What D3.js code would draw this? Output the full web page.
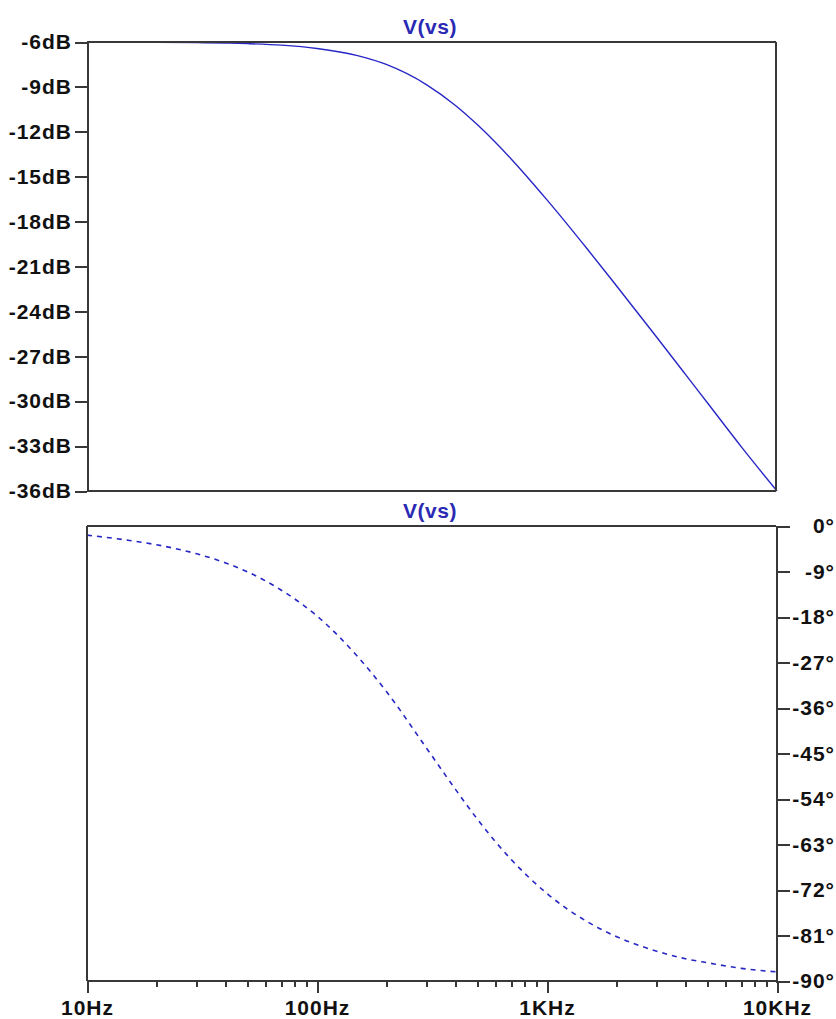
<!DOCTYPE html>
<html>
<head>
<meta charset="utf-8">
<script src="https://cdn.jsdelivr.net/npm/d3@7"></script>
<style>
  html, body { margin: 0; padding: 0; background: #fff; }
  svg { display: block; }
  text { font-family: "Liberation Sans", Arial, sans-serif; font-weight: bold; }
</style>
</head>
<body>
<script>
// ---- data ----
const freqs = [10, 15, 20, 30, 40, 50, 70, 100, 150, 200, 300, 400, 500, 700,
               1000, 1500, 2000, 3000, 4000, 5000, 7000, 10000];
const magnitudeDb = [-6.00, -6.01, -6.02, -6.04, -6.07, -6.11, -6.21, -6.43, -6.91, -7.50,
                     -8.86, -10.24, -11.55, -13.83, -16.55, -19.85, -22.27, -25.73,
                     -28.21, -30.14, -33.05, -36.00];
const phaseDeg = [-1.8, -2.8, -3.7, -5.5, -7.3, -9.1, -12.7, -17.8, -25.8, -32.7,
                  -44.0, -52.1, -58.1, -66.0, -72.7, -78.3, -81.2, -84.1,
                  -85.6, -86.4, -87.5, -88.2];
const magTicks = [-6, -9, -12, -15, -18, -21, -24, -27, -30, -33, -36];
const magTickLabels = ["-6dB", "-9dB", "-12dB", "-15dB", "-18dB", "-21dB", "-24dB", "-27dB", "-30dB", "-33dB", "-36dB"];
const phaseTicks = [0, -9, -18, -27, -36, -45, -54, -63, -72, -81, -90];
const phaseTickLabels = ["0°", "-9°", "-18°", "-27°", "-36°", "-45°", "-54°", "-63°", "-72°", "-81°", "-90°"];
const freqMajor = [10, 100, 1000, 10000];
const freqLabels = ["10Hz", "100Hz", "1KHz", "10KHz"];
const freqMinor = [20, 30, 40, 50, 60, 70, 80, 90, 200, 300, 400, 500, 600, 700, 800, 900,
                   2000, 3000, 4000, 5000, 6000, 7000, 8000, 9000];
const traceName = "V(vs)";

// ---- layout ----
const W = 836, H = 1019;
const L = 87, R = 776;
const top1 = 42, bot1 = 491;
const top2 = 526, bot2 = 981;
const frameColor = "#383838";
const traceColor = "#2727c6";
const titleColor = "#2a2ab4";
const fontSize = 21;

const svg = d3.select("body").append("svg").attr("width", W).attr("height", H);
svg.append("rect").attr("width", W).attr("height", H).attr("fill", "#fff");

const x = d3.scaleLog().domain([10, 10000]).range([L, R + 1]);
const yMag = d3.scaleLinear().domain([-36, -6]).range([bot1, top1]);
const yPh = d3.scaleLinear().domain([-90, 0]).range([bot2, top2]);

// ---- traces ----
const magLine = d3.line().x((d, i) => x(freqs[i])).y(d => yMag(d)).curve(d3.curveMonotoneX);
const phLine = d3.line().x((d, i) => x(freqs[i])).y(d => yPh(d)).curve(d3.curveMonotoneX);

svg.append("path").datum(magnitudeDb).attr("d", magLine)
  .attr("fill", "none").attr("stroke", traceColor).attr("stroke-width", 1.4);
svg.append("path").datum(phaseDeg).attr("d", phLine)
  .attr("fill", "none").attr("stroke", traceColor).attr("stroke-width", 1.6)
  .attr("stroke-dasharray", "5,5");

// ---- frames ----
function seg(x1, y1, x2, y2) {
  svg.append("line").attr("x1", x1).attr("y1", y1).attr("x2", x2).attr("y2", y2)
    .attr("stroke", frameColor).attr("stroke-width", 2).attr("shape-rendering", "crispEdges");
}
// top panel box
seg(L, top1, R, top1);
seg(R, top1, R, bot1);
seg(L, bot1, R, bot1);
// bottom panel box
seg(L, top2, R, top2);
seg(L, top2, L, bot2);
seg(L, bot2, R, bot2);

function styleAxis(g) {
  g.selectAll("path.domain").attr("stroke", frameColor).attr("stroke-width", 2).attr("shape-rendering", "crispEdges");
  g.selectAll(".tick line").attr("stroke", frameColor).attr("stroke-width", 2).attr("shape-rendering", "crispEdges");
  g.selectAll(".tick text").attr("fill", "#111").attr("font-size", fontSize)
    .attr("font-family", "'Liberation Sans', Arial, sans-serif").attr("font-weight", "bold")
    .attr("letter-spacing", "1px");
}

// magnitude axis (left)
const magAxis = svg.append("g").attr("transform", `translate(${L},0)`)
  .call(d3.axisLeft(yMag).tickValues(magTicks)
    .tickFormat((d, i) => magTickLabels[i]).tickSize(12).tickSizeOuter(0).tickPadding(3));
styleAxis(magAxis);

// phase axis (right)
const phAxis = svg.append("g").attr("transform", `translate(${R},0)`)
  .call(d3.axisRight(yPh).tickValues(phaseTicks)
    .tickFormat((d, i) => phaseTickLabels[i]).tickSize(14).tickSizeOuter(0).tickPadding(3));
styleAxis(phAxis);
phAxis.selectAll(".tick text").attr("text-anchor", "end").attr("x", W - 1 - R);

// frequency axis (bottom)
const minorAxis = svg.append("g").attr("transform", `translate(0,${bot2})`)
  .call(d3.axisBottom(x).tickValues(freqMinor).tickFormat("").tickSize(6).tickSizeOuter(0));
styleAxis(minorAxis);
minorAxis.select("path.domain").remove();
const majorAxis = svg.append("g").attr("transform", `translate(0,${bot2})`)
  .call(d3.axisBottom(x).tickValues(freqMajor)
    .tickFormat((d, i) => freqLabels[i]).tickSize(12).tickSizeOuter(0).tickPadding(7));
styleAxis(majorAxis);
majorAxis.select("path.domain").remove();

// ---- titles ----
svg.append("text").attr("x", 430).attr("y", 34).attr("text-anchor", "middle")
  .attr("fill", titleColor).attr("font-size", fontSize).attr("letter-spacing", "0.5px").text(traceName);
svg.append("text").attr("x", 430).attr("y", 518).attr("text-anchor", "middle")
  .attr("fill", titleColor).attr("font-size", fontSize).attr("letter-spacing", "0.5px").text(traceName);
</script>
</body>
</html>
